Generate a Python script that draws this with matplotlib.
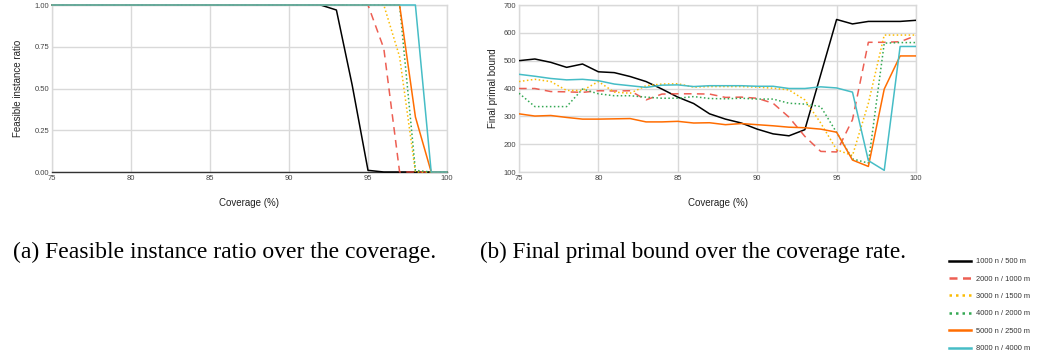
import matplotlib
matplotlib.use("Agg")
import matplotlib.pyplot as plt
from matplotlib.lines import Line2D

coverage = list(range(75, 101))

series_labels = ["1000 n / 500 m", "2000 n / 1000 m", "3000 n / 1500 m",
                 "4000 n / 2000 m", "5000 n / 2500 m", "8000 n / 4000 m"]

# Feasible instance ratio (left)
feas_1000 = [1.0]*18 + [0.97, 0.52, 0.01, 0.0, 0.0, 0.0, 0.0, 0.0]
feas_2000 = [1.0]*21 + [0.74, 0.0, 0.0, 0.0, 0.0]
feas_3000 = [1.0]*22 + [0.69, 0.0, 0.0, 0.0]
feas_4000 = [1.0]*23 + [0.01, 0.0, 0.0]
feas_5000 = [1.0]*23 + [0.33, 0.0, 0.0]
feas_8000 = [1.0]*24 + [0.0, 0.0]

# Final primal bound (right)
bound_1000 = [500, 506, 494, 476, 488, 460, 457, 443, 425, 398, 369, 346, 309,
              290, 276, 254, 237, 230, 252, 450, 648, 632, 641, 641, 641, 645]
bound_2000 = [400, 400, 389, 388, 386, 392, 391, 392, 359, 380, 381, 381, 380,
              368, 369, 365, 347, 297, 228, 174, 172, 288, 566, 566, 568, 590]
bound_3000 = [425, 433, 425, 393, 393, 425, 387, 383, 410, 416, 417, 405, 407,
              407, 407, 405, 401, 395, 359, 276, 180, 159, 347, 592, 592, 592]
bound_4000 = [383, 335, 335, 335, 398, 381, 374, 374, 369, 365, 365, 371, 364,
              363, 365, 362, 362, 347, 344, 335, 242, 147, 132, 563, 565, 565]
bound_5000 = [309, 301, 303, 296, 290, 290, 291, 292, 280, 280, 282, 276, 277,
              270, 274, 270, 266, 261, 259, 254, 243, 143, 120, 398, 517, 517]
bound_8000 = [451, 444, 436, 431, 433, 428, 416, 410, 404, 412, 413, 407, 410,
              410, 410, 408, 408, 400, 400, 406, 402, 387, 141, 106, 551, 551]

feas = [feas_1000, feas_2000, feas_3000, feas_4000, feas_5000, feas_8000]
bounds = [bound_1000, bound_2000, bound_3000, bound_4000, bound_5000, bound_8000]

colors = ["#000000", "#EA4335", "#FBBC04", "#34A853", "#FF6D01", "#46BDC6"]
styles = ["-", (0, (5, 3.5)), (0, (1, 1.6)), (0, (1, 1.6)), "-", "-"]
legend_styles = ["-", (0, (3.2, 2.2)), (0, (1, 1.6)), (0, (1, 1.6)), "-", "-"]
alphas = [1, 0.85, 1, 1, 1, 1]

W, H = 1044, 356
fig = plt.figure(figsize=(W/100, H/100), dpi=100)

tick_color = "#444444"
grid_color = "#d9d9d9"
sans = ["Liberation Sans", "DejaVu Sans"]
serif = ["Liberation Serif", "DejaVu Serif"]

def style_axes(ax):
    for side in ["top", "right", "left", "bottom"]:
        ax.spines[side].set_color(grid_color)
        ax.spines[side].set_linewidth(1.0)
    ax.grid(True, color=grid_color, linewidth=1.0)
    ax.set_axisbelow(True)
    ax.tick_params(length=0, labelsize=5.5, colors=tick_color, pad=2)
    for lab in ax.get_xticklabels() + ax.get_yticklabels():
        lab.set_family(sans)

ax1 = fig.add_axes([52/W, 1 - 172/H, 395/W, 167/H])
ax2 = fig.add_axes([519/W, 1 - 172/H, 397/W, 167/H])

for i in range(6):
    ax1.plot(coverage, feas[i], color=colors[i], linestyle=styles[i],
             linewidth=1.1, alpha=alphas[i], zorder=3, clip_on=False)
    ax2.plot(coverage, bounds[i], color=colors[i], linestyle=styles[i],
             linewidth=1.1, alpha=alphas[i], zorder=3)

ax1.set_xlim(75, 100)
ax1.set_ylim(0, 1.0)
ax1.set_xticks([75, 80, 85, 90, 95, 100])
ax1.set_yticks([0, 0.25, 0.5, 0.75, 1.0])
ax1.set_yticklabels(["0.00", "0.25", "0.50", "0.75", "1.00"])
style_axes(ax1)
ax1.spines["bottom"].set_color("#333333")

ax2.set_xlim(75, 100)
ax2.set_ylim(100, 700)
ax2.set_xticks([75, 80, 85, 90, 95, 100])
ax2.set_yticks([100, 200, 300, 400, 500, 600, 700])
style_axes(ax2)

ax1.set_xlabel("Coverage (%)", fontsize=7, color="#222222", family=sans, labelpad=12)
ax2.set_xlabel("Coverage (%)", fontsize=7, color="#222222", family=sans, labelpad=12)
ax1.set_ylabel("Feasible instance ratio", fontsize=7, color="#222222", family=sans, labelpad=8)
ax2.set_ylabel("Final primal bound", fontsize=7, color="#222222", family=sans, labelpad=4)

fig.text(224.5/W, 1 - 252/H, "(a) Feasible instance ratio over the coverage.",
         ha="center", va="center", fontsize=17, family=serif)
fig.text(692.5/W, 1 - 252/H, "(b) Final primal bound over the coverage rate.",
         ha="center", va="center", fontsize=16.7, family=serif)

handles = [Line2D([0], [0], color=colors[i], linestyle=legend_styles[i], linewidth=1.8,
                  alpha=alphas[i]) for i in range(6)]
leg = fig.legend(handles, series_labels, loc="upper left",
                 bbox_to_anchor=(949/W, 1 - 258/H), frameon=False,
                 prop={"family": sans, "size": 5.4}, handlelength=2.9,
                 handletextpad=0.65, labelspacing=1.35, borderaxespad=0,
                 borderpad=0)
for t in leg.get_texts():
    t.set_color("#333333")

fig.savefig("out.png", dpi=100)
